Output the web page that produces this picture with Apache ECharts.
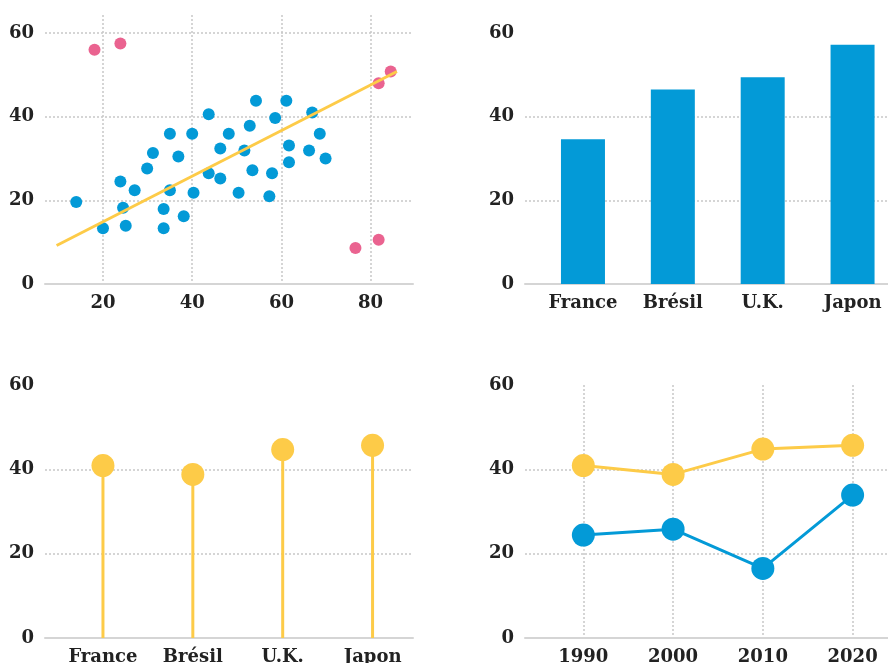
<!DOCTYPE html>
<html>
<head>
    <meta charset="utf-8">
    <title>ECharts</title>
    <script src="https://cdn.jsdelivr.net/npm/echarts@6/dist/echarts.min.js"></script>
    <style>
        html, body { margin: 0; padding: 0; background: #fff; }
    </style>
</head>
<body>
<div id="main" style="width: 888px;height:663px;"></div>
<script type="text/javascript">
    // donnees
    var mainPoints = [
        [14.0, 19.6], [20.0, 13.3], [23.9, 24.5], [24.5, 18.2], [25.1, 13.9],
        [27.1, 22.4], [29.9, 27.6], [31.2, 31.3], [33.6, 17.9], [33.6, 13.3],
        [35.0, 35.9], [35.0, 22.4], [36.9, 30.5], [38.1, 16.2], [40.0, 35.9],
        [40.3, 21.8], [43.7, 40.6], [43.7, 26.5], [46.3, 32.4], [46.3, 25.2],
        [48.2, 35.9], [50.4, 21.8], [51.7, 31.9], [52.9, 37.8], [53.5, 27.2],
        [54.3, 43.8], [57.3, 21.0], [57.9, 26.5], [58.6, 39.7], [61.1, 43.8],
        [61.7, 33.1], [61.7, 29.1], [66.2, 31.9], [66.9, 41.0], [68.6, 35.9],
        [69.9, 30.0]
    ];
    var outlierPoints = [[18.1, 56.0], [23.9, 57.5], [81.8, 48.0], [84.5, 50.8], [76.6, 8.6], [81.8, 10.6]];
    var trendLine = [[9.6, 9.2], [85.9, 50.8]];

    var countries = ['France', 'Brésil', 'U.K.', 'Japon'];
    var barValues = [34.6, 46.5, 49.4, 57.2];
    var lollipopValues = [40.9, 38.8, 44.7, 45.7];

    var years = [1990, 2000, 2010, 2020];
    var yellowValues = [40.9, 38.8, 44.8, 45.7];
    var blueValues = [24.4, 25.8, 16.5, 33.9];

    var blue = '#039ad7';
    var yellow = '#fdcb48';
    var pink = '#ea6390';
    var gridColor = '#c8c8c8';

    var labelFont = {
        fontFamily: 'DejaVu Serif',
        fontWeight: 'bold',
        fontSize: 18,
        color: '#222'
    };

    function pairs(xs, ys) {
        var out = [];
        for (var i = 0; i < xs.length; i++) out.push([xs[i], ys[i]]);
        return out;
    }
    var catIndex = countries.map(function (c, i) { return i; });

    function catLabel(v) {
        return (Number.isInteger(v) && countries[v] !== undefined) ? countries[v] : '';
    }

    function yAxisOf(i, max) {
        return {
            type: 'value', gridIndex: i, min: 0, max: max, interval: 20,
            axisLine: {show: false}, axisTick: {show: false},
            axisLabel: Object.assign({
                margin: 11, padding: [0, 0, 12, 0],
                showMaxLabel: max === 60,
                formatter: function (v) { return v % 20 === 0 ? v : ''; }
            }, labelFont),
            splitLine: {
                show: true, showMinLine: false, showMaxLine: false,
                lineStyle: {color: gridColor, width: 1.5, type: [2, 2]}
            }
        };
    }

    function xAxisOf(i, min, max, formatter, split) {
        return {
            type: 'value', gridIndex: i, min: min, max: max,
            axisLine: {show: true, lineStyle: {color: '#d5d5d5', width: 2}},
            axisTick: {show: false},
            axisLabel: Object.assign({
                margin: 10, showMinLabel: false, showMaxLabel: false,
                formatter: formatter
            }, labelFont),
            splitLine: {
                show: split, showMinLine: false, showMaxLine: false,
                lineStyle: {color: gridColor, width: 1.5, type: [2, 2]}
            }
        };
    }

    var myChart = echarts.init(document.getElementById('main'));
    var option = {
        animation: false,
        backgroundColor: '#fff',
        grid: [
            {left: 45, width: 368, top: 15, height: 269, outerBoundsMode: 'none'},
            {left: 525, width: 368, top: 33, height: 251, outerBoundsMode: 'none'},
            {left: 45, width: 368, top: 385, height: 253, outerBoundsMode: 'none'},
            {left: 525, width: 368, top: 385, height: 253, outerBoundsMode: 'none'}
        ],
        xAxis: [
            xAxisOf(0, 7, 89.5, function (v) { return v % 20 === 0 ? v : ''; }, true),
            xAxisOf(1, -0.645, 3.45, catLabel, false),
            xAxisOf(2, -0.645, 3.45, catLabel, false),
            xAxisOf(3, 1983.5, 2024.5, function (v) { return v % 10 === 0 ? String(v) : ''; }, true)
        ],
        yAxis: [
            yAxisOf(0, 64.3),
            yAxisOf(1, 60),
            yAxisOf(2, 60),
            yAxisOf(3, 60)
        ],
        series: [
            {
                type: 'scatter', xAxisIndex: 0, yAxisIndex: 0,
                symbolSize: 12, itemStyle: {color: blue, opacity: 1},
                data: mainPoints
            },
            {
                type: 'scatter', xAxisIndex: 0, yAxisIndex: 0,
                symbolSize: 12, itemStyle: {color: pink, opacity: 1},
                data: outlierPoints
            },
            {
                type: 'line', xAxisIndex: 0, yAxisIndex: 0, z: 5,
                showSymbol: false, symbol: 'none',
                lineStyle: {color: yellow, width: 3},
                data: trendLine
            },
            {
                type: 'bar', xAxisIndex: 1, yAxisIndex: 1,
                barWidth: 44, itemStyle: {color: blue},
                data: pairs(catIndex, barValues)
            },
            {
                type: 'bar', xAxisIndex: 2, yAxisIndex: 2,
                barWidth: 3, itemStyle: {color: yellow},
                data: pairs(catIndex, lollipopValues)
            },
            {
                type: 'scatter', xAxisIndex: 2, yAxisIndex: 2,
                symbolSize: 23, itemStyle: {color: yellow, opacity: 1},
                data: pairs(catIndex, lollipopValues)
            },
            {
                type: 'line', xAxisIndex: 3, yAxisIndex: 3,
                symbol: 'circle', symbolSize: 23,
                lineStyle: {color: yellow, width: 3},
                itemStyle: {color: yellow},
                data: pairs(years, yellowValues)
            },
            {
                type: 'line', xAxisIndex: 3, yAxisIndex: 3,
                symbol: 'circle', symbolSize: 23,
                lineStyle: {color: blue, width: 3},
                itemStyle: {color: blue},
                data: pairs(years, blueValues)
            }
        ]
    };
    myChart.setOption(option);
</script>
</body>
</html>
